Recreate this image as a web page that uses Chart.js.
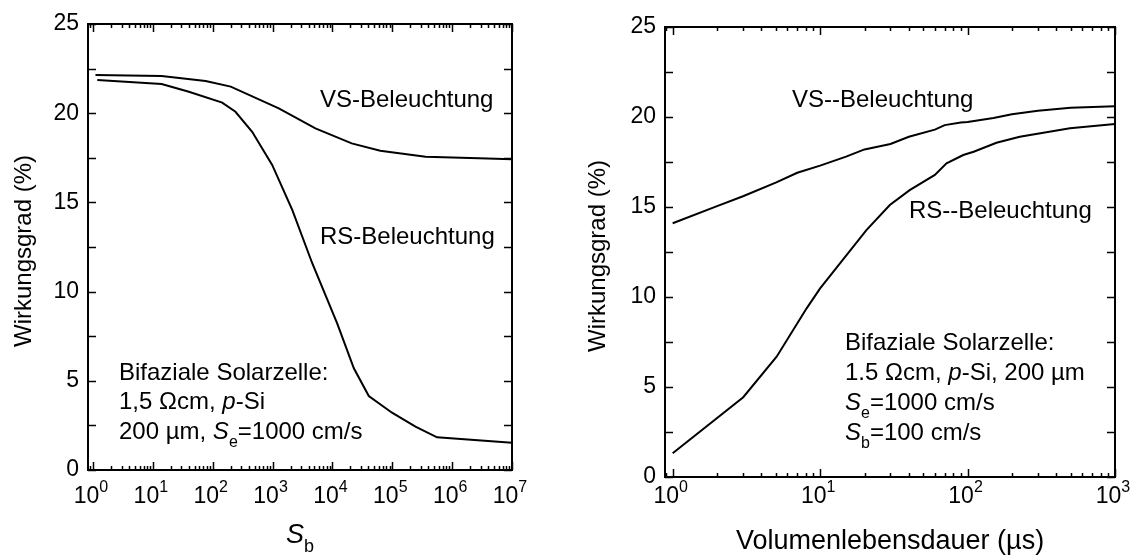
<!DOCTYPE html>
<html>
<head>
<meta charset="utf-8">
<script src="https://cdn.jsdelivr.net/npm/chart.js@4.4.1/dist/chart.umd.min.js"></script>
<style>
  html, body { margin: 0; padding: 0; background: #fff; }
  #wrap { position: relative; width: 1136px; height: 555px; overflow: hidden; }
  canvas { position: absolute; top: 0; }
</style>
</head>
<body>
<div id="wrap">
  <canvas id="left" width="560" height="555" style="left:0"></canvas>
  <canvas id="right" width="576" height="555" style="left:560px"></canvas>
</div>
<script>
// ---- left panel: efficiency vs. rear surface recombination velocity S_b ----
const sbVS   = [1.1, 14, 76, 200, 1270, 5200, 21000, 63000, 360000, 2800000, 10000000];
const effVS  = [22.14, 22.08, 21.8, 21.49, 20.27, 19.15, 18.31, 17.9, 17.56, 17.47, 17.42];
const sbRS   = [1.18, 14, 40, 144, 240, 456, 985, 2140, 4600, 12000, 22800, 40500, 99000, 244000, 560000, 10000000];
const effRS  = [21.86, 21.64, 21.2, 20.59, 20.08, 18.96, 17.1, 14.57, 11.59, 8.22, 5.7, 4.15, 3.21, 2.43, 1.83, 1.53];

// ---- right panel: efficiency vs. bulk lifetime (µs) ----
const tauVS  = [1, 2, 3, 5, 7, 10, 15, 20, 30, 40, 60, 70, 90, 100, 150, 200, 300, 500, 1000];
const effVS2 = [14.1, 15.05, 15.6, 16.35, 16.9, 17.3, 17.8, 18.2, 18.5, 18.9, 19.3, 19.55, 19.7, 19.72, 19.95, 20.15, 20.35, 20.52, 20.6];
const tauRS  = [1, 3.01, 5.07, 8.1, 10, 20.6, 29.7, 40.5, 60, 72, 93.5, 110, 157, 226, 495, 1000];
const effRS2 = [1.32, 4.43, 6.68, 9.37, 10.48, 13.72, 15.11, 15.94, 16.78, 17.43, 17.89, 18.07, 18.57, 18.9, 19.37, 19.61];

const yTicks = [0, 5, 10, 15, 20, 25];

const FONT = '"Liberation Sans", Arial, Helvetica, sans-serif';

function pts(xs, ys) {
    return xs.map((x, i) => ({ x: x, y: ys[i] }));
}

// draws a run of text pieces: {t, it (italic), sub, sup}
function rich(ctx, x, y, parts, size) {
    let cx = x;
    parts.forEach(p => {
        const s = (p.sub || p.sup) ? Math.round(size * 0.68) : size;
        ctx.font = (p.it ? 'italic ' : '') + s + 'px ' + FONT;
        const dy = p.sub ? size * 0.33 : (p.sup ? -size * 0.48 : 0);
        ctx.fillText(p.t, cx, y + dy);
        cx += ctx.measureText(p.t).width;
    });
    return cx - x;
}

function richWidth(ctx, parts, size) {
    let w = 0;
    parts.forEach(p => {
        const s = (p.sub || p.sup) ? Math.round(size * 0.68) : size;
        ctx.font = (p.it ? 'italic ' : '') + s + 'px ' + FONT;
        w += ctx.measureText(p.t).width;
    });
    return w;
}

// frame, inward ticks, labels and notes (Origin style)
const framePlugin = {
    id: 'frame',
    afterDatasetsDraw(chart, args, opts) {
        const ctx = chart.ctx;
        const a = chart.chartArea;
        const xs = chart.scales.x, ys = chart.scales.y;
        ctx.save();
        ctx.strokeStyle = '#000';
        ctx.fillStyle = '#000';
        ctx.lineWidth = 2;
        ctx.strokeRect(a.left, a.top, a.right - a.left, a.bottom - a.top);

        // x ticks (log decades + minor)
        ctx.lineWidth = 1.5;
        ctx.beginPath();
        for (let d = -1; d < opts.decades; d++) {
            for (let m = 1; m <= 9; m++) {
                const v = m * Math.pow(10, d);
                if (v < xs.min || v > xs.max) continue;
                const px = Math.round(xs.getPixelForValue(v)) + 0.5;
                const len = m === 1 ? 8 : 4;
                ctx.moveTo(px, a.bottom); ctx.lineTo(px, a.bottom - len);
                ctx.moveTo(px, a.top); ctx.lineTo(px, a.top + len);
            }
        }
        const last = Math.pow(10, opts.decades);
        const pl = Math.round(xs.getPixelForValue(last)) + 0.5;
        ctx.moveTo(pl, a.bottom); ctx.lineTo(pl, a.bottom - 8);
        ctx.moveTo(pl, a.top); ctx.lineTo(pl, a.top + 8);
        // y ticks every 2.5
        for (let v = 0; v <= 25; v += 2.5) {
            const py = Math.round(ys.getPixelForValue(v)) + 0.5;
            ctx.moveTo(a.left, py); ctx.lineTo(a.left + 8, py);
            ctx.moveTo(a.right, py); ctx.lineTo(a.right - 8, py);
        }
        ctx.stroke();

        // y tick labels
        ctx.font = '23px ' + FONT;
        ctx.textAlign = 'right';
        ctx.textBaseline = 'middle';
        yTicks.forEach(v => {
            ctx.fillText(String(v), a.left - 9, ys.getPixelForValue(v));
        });

        // x tick labels 10^n
        ctx.textAlign = 'left';
        ctx.textBaseline = 'alphabetic';
        for (let d = 0; d <= opts.decades; d++) {
            const parts = [{ t: '10' }, { t: String(d), sup: true }];
            const w = richWidth(ctx, parts, 23);
            const px = xs.getPixelForValue(Math.pow(10, d));
            rich(ctx, px - w / 2 - 2, 503, parts, 23);
        }

        // y axis title
        ctx.save();
        ctx.translate(opts.yTitleX, (a.top + a.bottom) / 2 + 4);
        ctx.rotate(-Math.PI / 2);
        ctx.font = '24px ' + FONT;
        ctx.textAlign = 'center';
        ctx.fillText('Wirkungsgrad (%)', 0, 9);
        ctx.restore();

        // x axis title
        const tw = richWidth(ctx, opts.xTitle, 27);
        rich(ctx, (a.left + a.right) / 2 - tw / 2, opts.xTitleY, opts.xTitle, 27);

        // notes
        opts.notes.forEach(n => rich(ctx, n.x, n.y, n.parts, 24));
        ctx.restore();
    }
};

const lineStyle = {
    borderColor: '#000',
    borderWidth: 2,
    pointRadius: 0,
    tension: 0,
    fill: false
};

function makeChart(id, datasets, xMin, xMax, pad, frameOpts) {
    return new Chart(document.getElementById(id), {
        type: 'line',
        data: { datasets: datasets.map(d => Object.assign({ data: d }, lineStyle)) },
        options: {
            responsive: false,
            animation: false,
            layout: { padding: pad },
            plugins: { legend: { display: false }, tooltip: { enabled: false }, frame: frameOpts },
            scales: {
                x: { type: 'logarithmic', min: xMin, max: xMax, display: false },
                y: { type: 'linear', min: 0, max: 25, display: false }
            }
        },
        plugins: [framePlugin]
    });
}

makeChart('left', [pts(sbVS, effVS), pts(sbRS, effRS)], 0.825, 1e7,
    { left: 88, right: 48, top: 24, bottom: 85 },
    {
        decades: 7,
        yTitleX: 22,
        xTitleY: 543,
        xTitle: [{ t: 'S', it: true }, { t: 'b', sub: true }],
        notes: [
            { x: 320, y: 107, parts: [{ t: 'VS-Beleuchtung' }] },
            { x: 320, y: 244, parts: [{ t: 'RS-Beleuchtung' }] },
            { x: 119, y: 380, parts: [{ t: 'Bifaziale Solarzelle:' }] },
            { x: 119, y: 409, parts: [{ t: '1,5 Ωcm, ' }, { t: 'p', it: true }, { t: '-Si' }] },
            { x: 119, y: 439, parts: [{ t: '200 µm, ' }, { t: 'S', it: true }, { t: 'e', sub: true }, { t: '=1000 cm/s' }] }
        ]
    });

makeChart('right', [pts(tauVS, effVS2), pts(tauRS, effRS2)], 0.887, 1000,
    { left: 105, right: 21, top: 27, bottom: 78 },
    {
        decades: 3,
        yTitleX: 36,
        xTitleY: 549,
        xTitle: [{ t: 'Volumenlebensdauer (µs)' }],
        notes: [
            { x: 792, y: 107, parts: [{ t: 'VS--Beleuchtung' }] },
            { x: 909, y: 218, parts: [{ t: 'RS--Beleuchtung' }] },
            { x: 845, y: 350, parts: [{ t: 'Bifaziale Solarzelle:' }] },
            { x: 845, y: 380, parts: [{ t: '1.5 Ωcm, ' }, { t: 'p', it: true }, { t: '-Si, 200 µm' }] },
            { x: 845, y: 410, parts: [{ t: 'S', it: true }, { t: 'e', sub: true }, { t: '=1000 cm/s' }] },
            { x: 845, y: 440, parts: [{ t: 'S', it: true }, { t: 'b', sub: true }, { t: '=100 cm/s' }] }
        ].map(n => Object.assign(n, { x: n.x - 560 }))
    });
</script>
</body>
</html>
